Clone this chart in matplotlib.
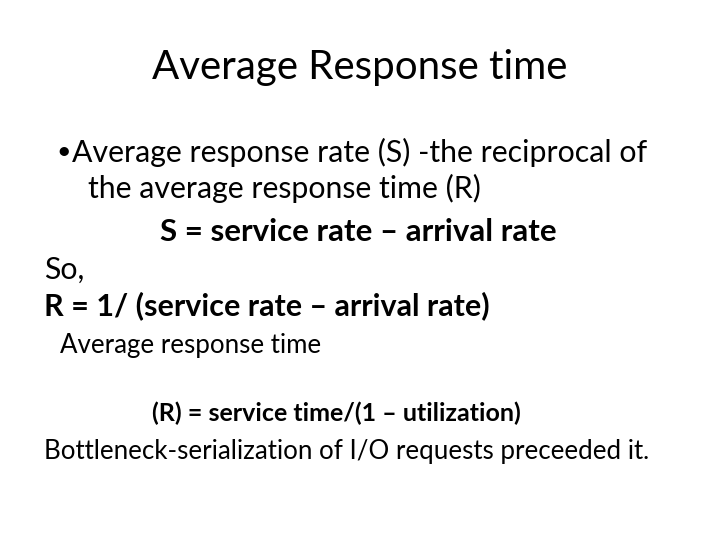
import matplotlib.pyplot as plt

plt.rcParams['font.family'] = ['Lato', 'DejaVu Sans']

title = "Average Response time"
# (text, x px, y px, size, bold)
lines = [
    ("•", 56, 152, 18, False),
    ("Average response rate (S) -the reciprocal of", 72, 152, 21.8, False),
    ("the average response time (R)", 88, 188, 21.8, False),
    ("S = service rate – arrival rate", 160, 232, 22.5, True),
    ("So,", 44, 270, 21.8, False),
    ("R = 1/ (service rate – arrival rate)", 44, 306, 22, True),
    ("Average response time", 60, 346, 18.6, False),
    ("(R) = service time/(1 – utilization)", 152, 413, 18, True),
    ("Bottleneck-serialization of I/O requests preceeded it.", 44, 452, 18.6, False),
]

W, H = 720, 540
fig = plt.figure(figsize=(7.2, 5.4), dpi=100)
fig.patch.set_facecolor('white')

fig.text(0.5, 1 - 68 / H, title, ha='center', va='center', fontsize=29, color='black')
for txt, x, y, size, bold in lines:
    fig.text(x / W, 1 - y / H, txt, ha='left', va='center', fontsize=size,
             fontweight='bold' if bold else 'normal', color='black')

fig.savefig("out.png", dpi=100)
